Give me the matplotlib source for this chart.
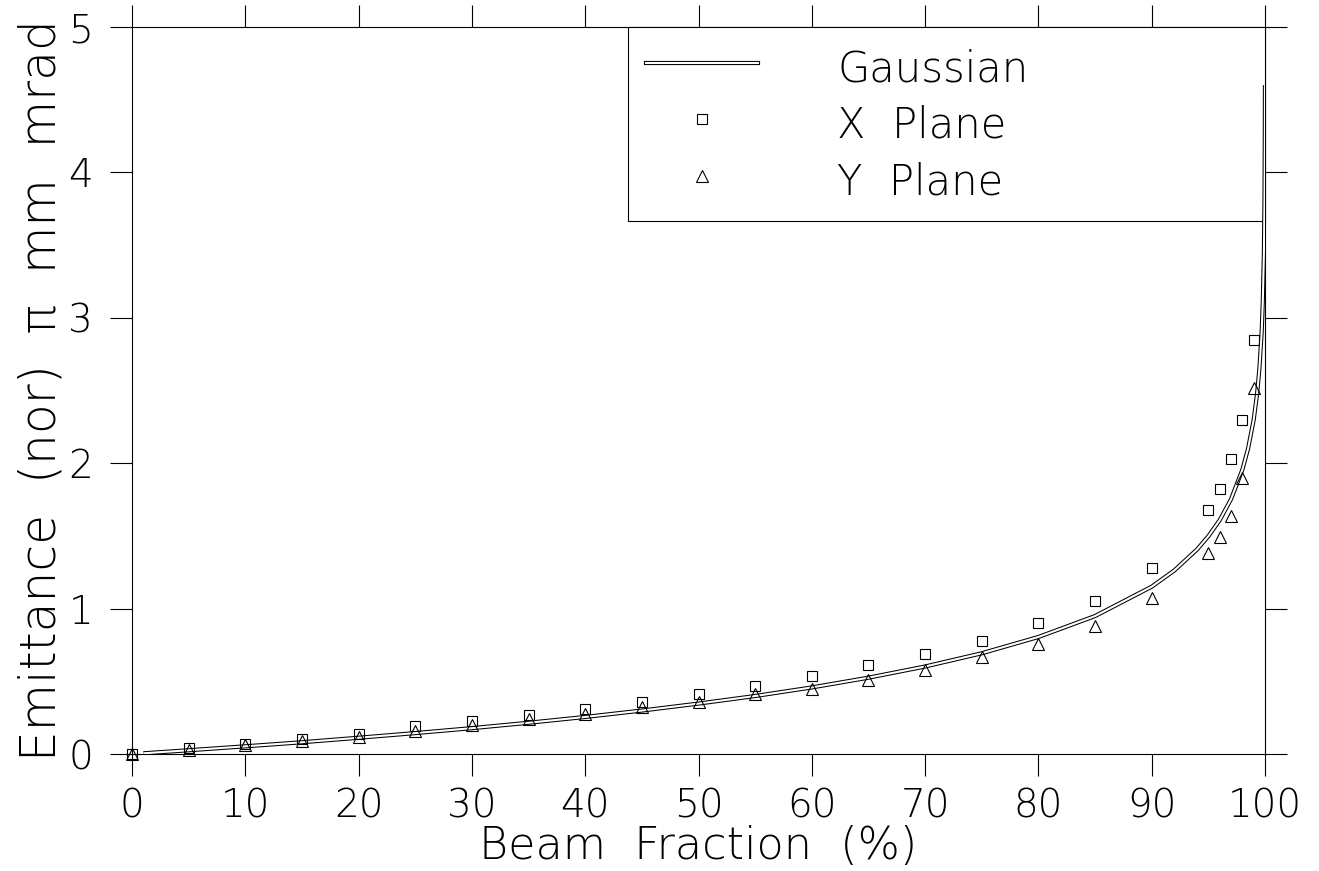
import matplotlib
matplotlib.use("Agg")
import matplotlib.pyplot as plt
from matplotlib.lines import Line2D
from matplotlib.legend_handler import HandlerTuple

# Gaussian reference curve
frac_gauss = [1, 5, 10, 15, 20, 25, 30, 35, 40, 45, 50, 55, 60, 65, 70, 75, 80, 85,
              90, 92, 94, 95, 96, 97, 98, 98.5, 99, 99.3, 99.5, 99.7, 99.8, 99.9,
              99.95, 99.98, 99.99]
emit_gauss = [0.005, 0.026, 0.053, 0.081, 0.112, 0.144, 0.178, 0.215, 0.255, 0.299,
              0.347, 0.399, 0.458, 0.525, 0.602, 0.693, 0.805, 0.949, 1.151, 1.263,
              1.407, 1.498, 1.609, 1.753, 1.956, 2.10, 2.30, 2.48, 2.65, 2.90, 3.11,
              3.45, 3.80, 4.26, 4.60]

# measured points
frac_pts = [0, 5, 10, 15, 20, 25, 30, 35, 40, 45, 50, 55, 60, 65, 70, 75, 80, 85,
            90, 95, 96, 97, 98, 99]
emit_x = [0.0, 0.04, 0.07, 0.10, 0.14, 0.19, 0.23, 0.27, 0.31, 0.36, 0.41, 0.47,
          0.54, 0.61, 0.69, 0.78, 0.90, 1.05, 1.28, 1.68, 1.82, 2.03, 2.30, 2.85]
emit_y = [0.0, 0.03, 0.06, 0.09, 0.12, 0.16, 0.20, 0.24, 0.275, 0.32, 0.36, 0.41,
          0.45, 0.51, 0.58, 0.67, 0.76, 0.88, 1.07, 1.38, 1.49, 1.64, 1.90, 2.52]

xticks = list(range(0, 101, 10))
yticks = [0, 1, 2, 3, 4, 5]

plt.rcParams['font.family'] = ['DejaVu Sans']
plt.rcParams['font.weight'] = 'light'

fig = plt.figure(figsize=(13.19, 8.71), dpi=100)
ax = fig.add_axes([0.1001, 0.1343, 0.8590, 0.8347])

# double line look: thick black with thin white on top
ax.plot(frac_gauss, emit_gauss, color='black', lw=3.0, solid_capstyle='butt', zorder=6)
ax.plot(frac_gauss, emit_gauss, color='white', lw=1.5, solid_capstyle='butt', zorder=6.1)
ax.plot(frac_pts, emit_x, ls='none', marker='s', ms=7.5, mfc='none', mec='black',
        mew=0.8, zorder=7, clip_on=False)
ax.plot(frac_pts, emit_y, ls='none', marker='^', ms=8, mfc='none', mec='black',
        mew=0.8, zorder=7, clip_on=False)

ax.set_xlim(0, 100)
ax.set_ylim(0, 5)
ax.set_xticks(xticks)
ax.set_yticks(yticks)
ax.tick_params(direction='out', length=16, width=0.8, top=True, right=True,
               labelsize=28, labeltop=False, labelright=False)
ax.tick_params(axis='x', pad=8)
ax.tick_params(axis='y', pad=12)
for s in ax.spines.values():
    s.set_linewidth(0.8)

ax.set_xlabel('Beam  Fraction  (%)', fontsize=32, fontweight='light', labelpad=0)
ax.set_ylabel('Emittance  (nor)  \u03c0  mm  mrad', fontsize=35, fontweight='light',
              labelpad=2)

h_gauss = (Line2D([], [], color='black', lw=3.0), Line2D([], [], color='white', lw=1.5))
h_x = Line2D([], [], ls='none', marker='s', ms=7.5, mfc='none', mec='black', mew=0.8)
h_y = Line2D([], [], ls='none', marker='^', ms=8, mfc='none', mec='black', mew=0.8)
leg = ax.legend([h_gauss, h_x, h_y], ['Gaussian', 'X  Plane', 'Y  Plane'],
                handler_map={tuple: HandlerTuple(ndivide=1)},
                loc='upper left', bbox_to_anchor=(0.4378, 0.7345, 0.5622, 0.2655),
                mode='expand', borderaxespad=0, fontsize=30, handlelength=2.7,
                handleheight=1.32, handletextpad=1.9, borderpad=0.42,
                labelspacing=0.25, fancybox=False, framealpha=1, edgecolor='black')
leg.get_frame().set_linewidth(0.8)
leg.set_zorder(3)

fig.savefig('out.png', dpi=100)
